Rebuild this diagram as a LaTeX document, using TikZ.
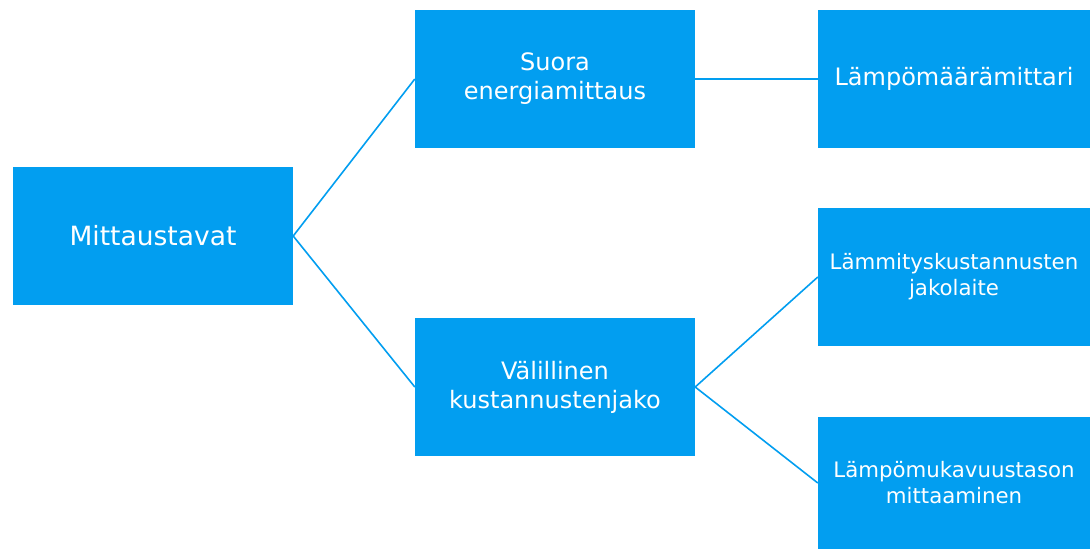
\documentclass[tikz,border=0pt]{standalone}
\usepackage{fontspec}
\setmainfont{DejaVu Sans}
\definecolor{boxblue}{RGB}{2,158,240}
\tikzset{
  box/.style={
    fill=boxblue,
    text=white,
    minimum width=280pt,
    minimum height=138pt,
    inner sep=0pt,
    align=center,
    font=\fontsize{24}{29}\selectfont
  },
  box-root/.style={
    box,
    font=\fontsize{26.5}{31}\selectfont
  },
  box-small/.style={
    box,
    minimum width=272pt,
    font=\fontsize{21.3}{26}\selectfont
  },
  link/.style={draw=boxblue, line width=1.6pt}
}
\begin{document}
\begin{tikzpicture}[x=1pt,y=-1pt]
  \useasboundingbox (0,0) rectangle (1090,549);
  % left and middle column
  \node[box-root] (mitta) at (153,236) {Mittaustavat};
  \node[box] (suora) at (555,79) {Suora\\energiamittaus};
  \node[box] (valil) at (555,387) {Välillinen\\kustannustenjako};
  % right column
  \node[box, minimum width=272pt] (lampo) at (954,79) {Lämpömäärämittari};
  \node[box-small] (jako) at (954,277) {Lämmityskustannusten\\jakolaite};
  \node[box-small, minimum height=132pt] (muk) at (954,483) {Lämpömukavuustason\\mittaaminen};
  % connectors
  \draw[link] (mitta.east) -- (suora.west);
  \draw[link] (mitta.east) -- (valil.west);
  \draw[link] (suora.east) -- (lampo.west);
  \draw[link] (valil.east) -- (jako.west);
  \draw[link] (valil.east) -- (muk.west);
\end{tikzpicture}
\end{document}
